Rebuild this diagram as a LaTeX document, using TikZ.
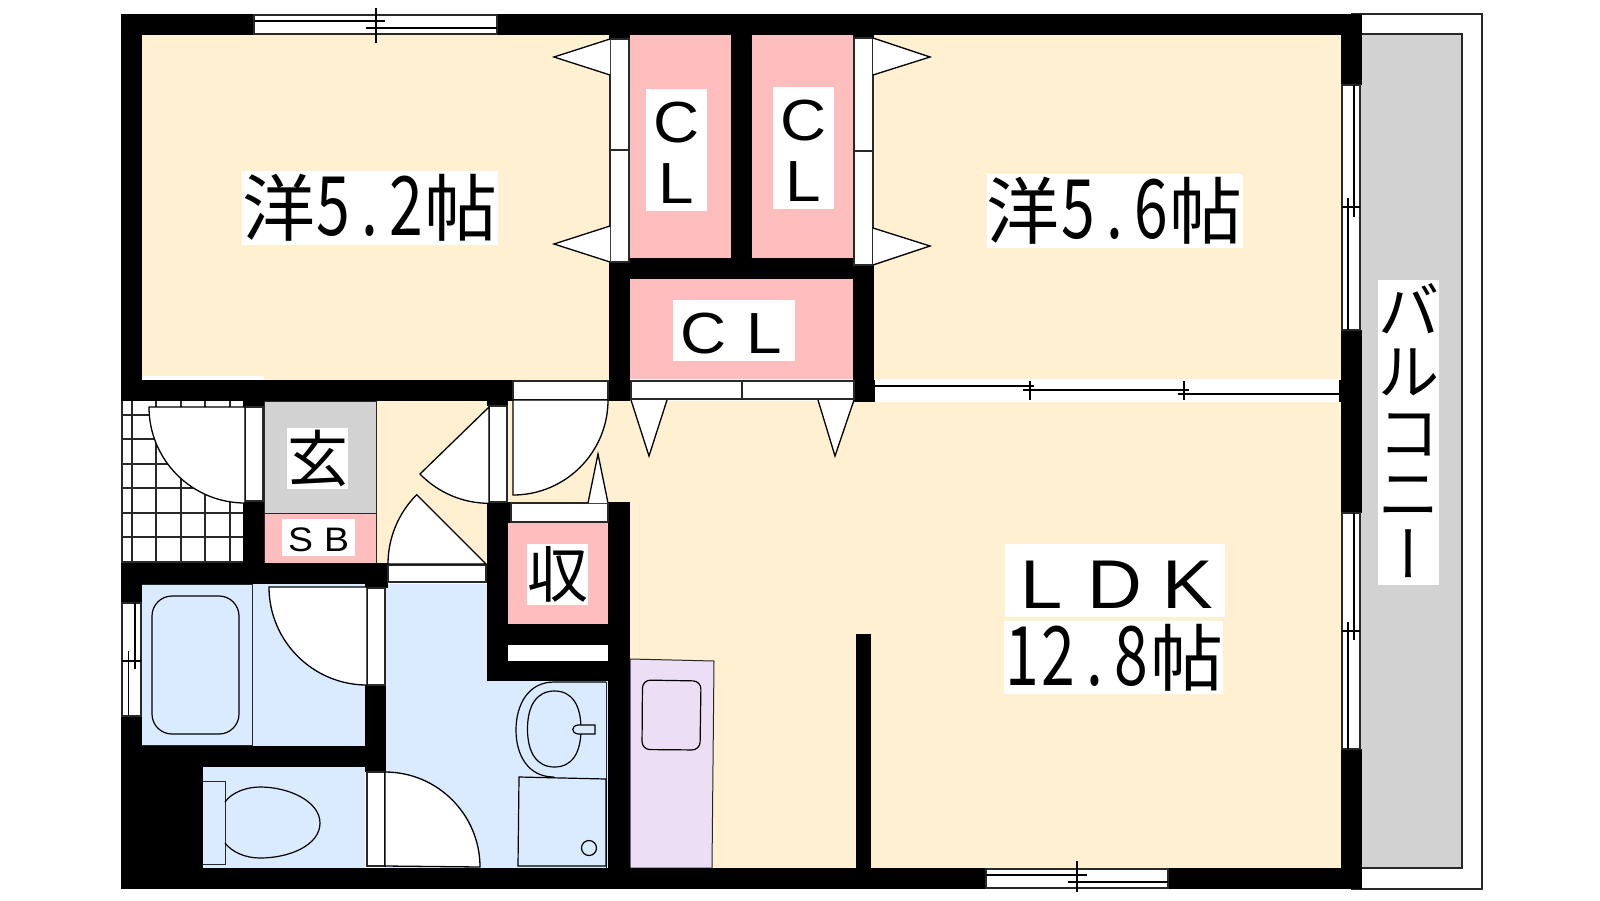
\documentclass[tikz,border=0pt]{standalone}
\usepackage{fontspec}
\setmainfont{Noto Sans CJK JP}
\newfontfamily\lat[FakeStretch=1.1]{Liberation Sans}
\newfontfamily\dg[FakeStretch=0.74]{Noto Sans CJK JP}
\newfontfamily\cjkv[RawFeature=+vert]{Noto Sans CJK JP}
\definecolor{cream}{RGB}{254,240,208}
\definecolor{pinkc}{RGB}{255,190,190}
\definecolor{bluec}{RGB}{218,235,255}
\definecolor{grayc}{RGB}{210,210,210}
\definecolor{purp}{RGB}{236,222,244}
\definecolor{edge}{RGB}{40,40,40}
\newcommand\hw[1]{\makebox[36.5pt][c]{\dg\fontsize{82}{82}\selectfont #1}}
\newcommand\la[2]{\makebox[#1pt][c]{\lat\fontsize{\numexpr#1*95/100\relax}{#1}\selectfont #2}}
\newcommand\vrl[1]{\rule[-0.12em]{0pt}{1em}#1}
\tikzset{
  wall/.style={fill=black,draw=none},
  thin line/.style={draw=edge,line width=1pt},
  tile/.style={draw=edge,line width=1.3pt},
  door/.style={fill=white,draw=black,line width=1.3pt,line join=miter},
  strip/.style={fill=white,draw=edge,line width=1.1pt},
  fix/.style={draw=black,line width=1.2pt},
  lab/.style={fill=white,inner sep=0pt,outer sep=0pt,anchor=center,align=center},
  big/.style={lab,font=\fontsize{73}{73}\selectfont,text height=64pt,text depth=9pt},
  mid/.style={lab,font=\fontsize{61}{61}\selectfont,text height=53.7pt,text depth=7.3pt},
  mul/.style={lab,font=\fontsize{61}{61}\selectfont},
  tiny/.style={lab,font=\fontsize{36.5}{36.5}\selectfont,text height=32pt,text depth=4.5pt}
}
\begin{document}
\begin{tikzpicture}[x=1pt,y=-1pt]
\useasboundingbox (0,0) rectangle (1600,900);
\fill[white] (0,0) rectangle (1600,900);
% balcony
\draw[draw=edge,line width=1.2pt] (1351,14) -- (1482,14) -- (1482,889) -- (1351,889);
\draw[fill=grayc,draw=edge,line width=1.2pt] (1360,34) rectangle (1462,868);
% room fills
\fill[cream] (142,35) rectangle (609,380);
\fill[cream] (874,35) rectangle (1341,380);
\fill[cream] (508,401) rectangle (1341,503);
\fill[cream] (630,401) rectangle (1341,868);
\fill[cream] (376,401) rectangle (487,563);
\fill[white] (142,376) rectangle (264,380);
% closets
\fill[pinkc] (630,35) rectangle (731,258);
\fill[pinkc] (752,35) rectangle (853,258);
\fill[pinkc] (630,279) rectangle (853,379);
\fill[pinkc] (508,523) rectangle (608,624);
% entrance
\draw[fill=grayc,thin line] (264,401) rectangle (376,513);
\draw[fill=pinkc,thin line] (264,513) rectangle (376,563);
% wet rooms
\fill[bluec] (142,584) rectangle (365,746);
\fill[bluec] (203,767) rectangle (365,868);
\fill[bluec] (385,584) rectangle (487,868);
\fill[bluec] (487,681) rectangle (608,868);
\draw[thin line] (142,584) -- (252,584) -- (252,745) -- (142,745);
% kitchen
\draw[fill=purp,thin line] (630,659) -- (714,661) -- (712,868) -- (630,868) -- cycle;
\draw[fix,rounded corners=8pt] (642.5,680) -- (701,681) -- (700,750) -- (642,749.5) -- cycle;
% tiles
\foreach \x in {122,132,156,181,205,230} \draw[tile] (\x,401) -- (\x,563);
\foreach \y in {415,439,464,488,513,537,562} \draw[tile] (122,\y) -- (243,\y);
% walls
\fill[wall] (121,14) rectangle (254,35);
\fill[wall] (497,14) rectangle (1362,35);
\fill[wall] (121,14) rectangle (142,401);
\fill[wall] (121,380) rectangle (513,401);
\fill[wall] (243,401) rectangle (264,407);
\fill[wall] (243,501) rectangle (264,563);
\fill[wall] (487,401) rectangle (508,406);
\fill[wall] (487,502) rectangle (511,523);
\fill[wall] (487,502) rectangle (508,681);
\fill[wall] (121,563) rectangle (365,584);
\fill[wall] (365,563) rectangle (388,588);
\fill[wall] (121,584) rectangle (142,603);
\fill[wall] (121,716) rectangle (142,889);
\fill[wall] (121,746) rectangle (203,889);
\fill[wall] (121,746) rectangle (365,767);
\fill[wall] (365,685) rectangle (386,772);
\fill[wall] (121,868) rectangle (986,889);
\fill[wall] (1168,868) rectangle (1362,889);
\fill[wall] (608,502) rectangle (630,868);
\fill[wall] (508,624) rectangle (608,645);
\fill[wall] (508,661) rectangle (630,681);
\fill[wall] (731,35) rectangle (752,258);
\fill[wall] (609,35) rectangle (630,39);
\fill[wall] (853,35) rectangle (874,38);
\fill[wall] (609,258) rectangle (874,279);
\fill[wall] (609,258) rectangle (630,401);
\fill[wall] (853,258) rectangle (874,401);
\fill[wall] (853,380) rectangle (875,402);
\fill[wall] (1341,14) rectangle (1362,85);
\fill[wall] (1341,330) rectangle (1362,513);
\fill[wall] (1341,749) rectangle (1362,889);
\fill[wall] (1339,380) rectangle (1341,402);
\fill[wall] (856,634) rectangle (871,868);
\fill[white] (508,645) rectangle (608,661);
% closet sliding doors
\draw[strip] (610,39) rectangle (629,150);
\draw[strip] (610,150) rectangle (629,262);
\draw[strip] (854,38) rectangle (873,151);
\draw[strip] (854,151) rectangle (873,265);
\draw[strip] (631,381) rectangle (742,399);
\draw[strip] (742,381) rectangle (854,399);
\draw[door] (610,39) -- (554,57) -- (610,75);
\draw[door] (610,226) -- (554,244) -- (610,262);
\draw[door] (873,38) -- (930,57) -- (873,75);
\draw[door] (873,228) -- (930,246) -- (873,265);
\draw[door] (631,400) -- (649,456) -- (667,400);
\draw[door] (818,400) -- (835,456) -- (854,400);
% hinged doors
\draw[strip] (513,381) rectangle (608,400);
\draw[door] (513,400) -- (513,495) arc[start angle=90,end angle=0,radius=95] -- cycle;
\draw[strip] (511,503) rectangle (608,522);
\draw[door] (588,503) -- (598,454) -- (608,503);
\draw[strip] (489,406) rectangle (507,502);
\draw[door] (489,407) -- (420,474) arc[start angle=136,end angle=90,radius=96] -- cycle;
\draw[strip] (388,565) rectangle (486,582);
\draw[door] (486,564) -- (388,564) arc[start angle=180,end angle=225,radius=98] -- cycle;
\draw[strip] (245,407) rectangle (263,501);
\draw[door] (245,407) -- (149,407) arc[start angle=180,end angle=90,radius=96] -- cycle;
\draw[strip] (367,588) rectangle (385,685);
\draw[door] (367,587) -- (269,587) arc[start angle=180,end angle=90,x radius=98,y radius=98] -- cycle;
\draw[strip] (367,772) rectangle (385,866);
\draw[door] (385,866) -- (385,772) arc[start angle=-90,end angle=0,radius=95] -- cycle;
% tub
\draw[fix,rounded corners=20pt] (152,596) rectangle (239,734);
% toilet
\draw[thin line] (203,781) -- (225,781) -- (225,864) -- (203,864);
\draw[fix] (225,802) .. controls (232,792) and (247,787) .. (260,787) .. controls (290,787) and (320,802) .. (320,823) .. controls (320,845) and (290,858) .. (260,858) .. controls (245,858) and (232,852) .. (225,843);
% wash basin
\draw[fix] (606,682) -- (554,682) .. controls (528,682) and (516,705) .. (516,730) .. controls (516,755) and (528,777) .. (554,777);
\draw[fix] (554.5,691) .. controls (572,691) and (581,705) .. (581,729) .. controls (581,753) and (572,767) .. (554.5,767) .. controls (537,767) and (527.5,753) .. (527.5,729) .. controls (527.5,705) and (537,691) .. (554.5,691) -- cycle;
\draw[fix,fill=bluec] (595,725) -- (578,725) .. controls (571,726) and (571,733) .. (578,734) -- (595,734) -- cycle;
\draw[thin line] (606,682) -- (606,868);
\draw[fix] (519,777) -- (606,779) -- (606,866) -- (518,866) -- cycle;
\draw[fix] (589,848) circle[radius=7.5];
% windows
\draw[strip] (254,15) rectangle (497,34);
\draw[fix] (254,21) -- (385,21);
\draw[fix] (366,28) -- (497,28);
\draw[fix] (376,8) -- (376,43);
\draw[strip] (986,869) rectangle (1168,888);
\draw[fix] (986,875) -- (1087,875);
\draw[fix] (1068,882) -- (1168,882);
\draw[fix] (1077,861) -- (1077,892);
\draw[strip] (122,603) rectangle (141,716);
\draw[fix] (122,661) -- (141,661);
\draw[fix] (135,603) -- (135,669);
\draw[fix] (128.6,651) -- (128.6,716);
\draw[strip] (1342,85) rectangle (1360,330);
\draw[fix] (1342,207) -- (1360,207);
\draw[fix] (1354,85) -- (1354,217);
\draw[fix] (1348,198) -- (1348,330);
\draw[strip] (1342,513) rectangle (1360,749);
\draw[fix] (1342,631) -- (1360,631);
\draw[fix] (1354,513) -- (1354,640);
\draw[fix] (1348,622) -- (1348,749);
\fill[white] (875,379) rectangle (1339,402);
\draw[fix] (875,386) -- (1034,386);
\draw[fix] (1023,390) -- (1189,390);
\draw[fix] (1178,394) -- (1339,394);
\draw[fix] (1030,381) -- (1030,400);
\draw[fix] (1184,381) -- (1184,400);
% labels
\node[big,minimum width=256pt,minimum height=74pt] (r1) at (370,208) {洋\hw{5}\hw{.}\hw{2}帖};
\node[big,minimum width=256pt,minimum height=74pt] (r2) at (1114.5,210.5) {洋\hw{5}\hw{.}\hw{6}帖};
\node[big,minimum width=220pt,minimum height=73pt] (ldk) at (1115,580.5) {\la{73}{L}\la{73}{D}\la{73}{K}};
\node[big,minimum width=219pt,minimum height=73pt] (ldk2) at (1113.5,657.5) {\hw{1}\hw{2}\hw{.}\hw{8}帖};
\node[mul,minimum width=61pt,minimum height=122pt] (cl1) at (676.5,150) {\vrl{\la{61}{C}}\\\vrl{\la{61}{L}}};
\node[mul,minimum width=61pt,minimum height=122pt] (cl2) at (803.5,148) {\vrl{\la{61}{C}}\\\vrl{\la{61}{L}}};
\node[mid,minimum width=122pt,minimum height=61pt] (cl3) at (734,330.5) {\la{61}{C}\la{61}{L}};
\node[mid,minimum width=61pt,minimum height=61pt] (gen) at (317.5,458.5) {玄};
\node[tiny,minimum width=73pt,minimum height=37pt] (sb) at (318.5,537.5) {\la{36}{S}\la{36}{B}};
\node[mid,minimum width=61pt,minimum height=61pt] (osa) at (557.5,574.5) {収};
\node[mul,minimum width=61pt,minimum height=305pt] (bal) at (1408.5,432.5) {\vrl{バ}\\\vrl{ル}\\\vrl{コ}\\\vrl{ニ}\\\vrl{\cjkv ー}};
\end{tikzpicture}
\end{document}
